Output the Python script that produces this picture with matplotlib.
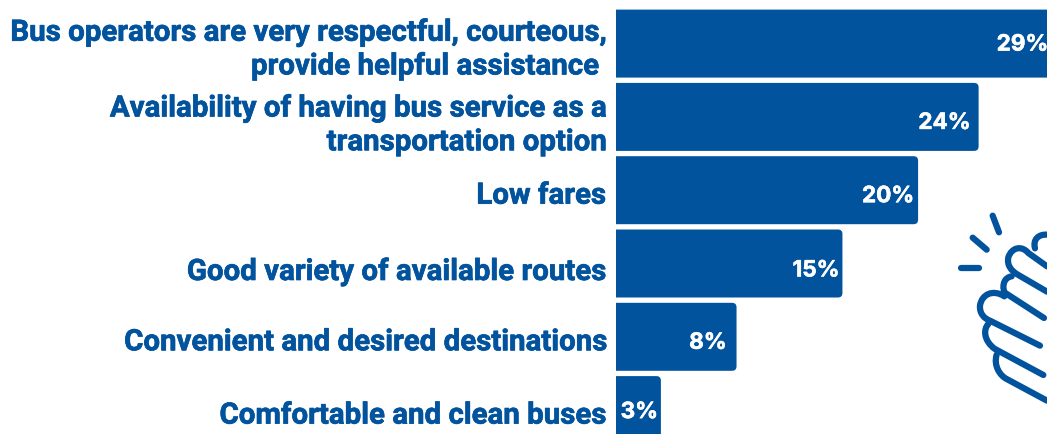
import matplotlib
matplotlib.use("Agg")
import matplotlib.patheffects as pe
import matplotlib.pyplot as plt
from matplotlib.patches import FancyBboxPatch, PathPatch
from matplotlib.path import Path
from matplotlib.transforms import Affine2D

categories = [
    "Bus operators are very respectful, courteous,\nprovide helpful assistance ",
    "Availability of having bus service as a\ntransportation option",
    "Low fares",
    "Good variety of available routes",
    "Convenient and desired destinations",
    "Comfortable and clean buses",
]
values = [29, 24, 20, 15, 8, 3]
value_labels = ["29%", "24%", "20%", "15%", "8%", "3%"]

BLUE = "#01539d"
W, H = 1047, 435
X0 = 615.5       # pixel position of the bars' left edge
PX_PER_PCT = 15.13
ROW_TOP = 44.6   # pixel centre of the first bar
ROW_STEP = 73.3
BAR_PX = 68.0

# nudges in pixels, the labels do not sit at a constant place in the reference
label_dy = [6, 8.5, 5.5, 8.5, 5.5, 5.5]
value_dx = [-6, -8, -4, -3, -10, -3]
value_dy = [1, 6, 6, 7, 6, 2]

fig = plt.figure(figsize=(W / 100, H / 100), dpi=100, facecolor="white")
ax = fig.add_axes([X0 / W, 0, (W - X0) / W, 1])
ax.set_xlim(0, (W - X0) / PX_PER_PCT)
ax.set_ylim((H - ROW_TOP) / ROW_STEP, -ROW_TOP / ROW_STEP)
ax.axis("off")

bar_h = BAR_PX / ROW_STEP
aspect = PX_PER_PCT / ROW_STEP
for i, v in enumerate(values):
    # starts left of the axes so only the right corners show rounded
    ax.add_patch(FancyBboxPatch(
        (-1, i - bar_h / 2), v + 1, bar_h,
        boxstyle="round,pad=0,rounding_size=0.3",
        mutation_aspect=aspect,
        facecolor=BLUE, edgecolor="none",
    ))
    ax.annotate(
        value_labels[i], xy=(v, i), xycoords="data",
        xytext=(value_dx[i] * 0.72, -value_dy[i] * 0.72), textcoords="offset points",
        ha="right", va="center", color="white",
        fontsize=16.2, fontweight="bold", family="Inter",
        annotation_clip=False,
        path_effects=[pe.withStroke(linewidth=0.4, foreground="white")],
    )
    ax.annotate(
        categories[i], xy=(0, i), xycoords="data",
        xytext=(-9.5 * 0.72, -label_dy[i] * 0.72), textcoords="offset points",
        ha="right", va="center", multialignment="right", color=BLUE,
        fontsize=21.2, fontweight="bold", family="Roboto", linespacing=1.26,
        annotation_clip=False,
        path_effects=[pe.withStroke(linewidth=0.5, foreground=BLUE)],
    )

# clapping hands icon, outlined in pixels of the 3x crop starting at (900, 190)
to_fig = (Affine2D().scale(1 / 3).translate(900, 190).scale(1, -1).translate(0, H)
          .scale(1 / 100) + fig.dpi_scale_trans)
M, L, C = Path.MOVETO, Path.LINETO, Path.CURVE4
strokes = [
    [(M, (278, 80)), (L, (297, 130))],
    [(M, (218, 146)), (L, (260, 182))],
    [(M, (182, 237)), (L, (237, 237))],
    [(M, (441, 137)), (C, (415, 135)), (C, (398, 152)), (C, (405, 178))],
    [(M, (441, 232)), (L, (385, 192)), (C, (365, 168)), (C, (335, 175)), (C, (325, 205)),
     (C, (320, 230)), (C, (335, 245)), (C, (350, 255)), (L, (441, 308))],
    [(M, (335, 262)), (C, (315, 265)), (C, (305, 285)), (C, (313, 310)), (L, (432, 387))],
    [(M, (313, 322)), (C, (280, 300)), (C, (245, 315)), (C, (240, 350)),
     (C, (238, 375)), (C, (255, 390)), (C, (270, 395)), (L, (420, 470))],
    [(M, (265, 405)), (C, (250, 420)), (C, (250, 455)), (C, (285, 480)), (L, (430, 558))],
    [(M, (290, 497)), (C, (280, 530)), (C, (300, 560)), (C, (320, 570)), (L, (441, 635))],
]
for s in strokes:
    path = Path([p for _, p in s], [c for c, _ in s])
    fig.add_artist(PathPatch(
        path, transform=to_fig, fill=False, edgecolor=BLUE,
        linewidth=4.5, capstyle="round", joinstyle="round",
    ))

fig.savefig("out.png", dpi=100)
